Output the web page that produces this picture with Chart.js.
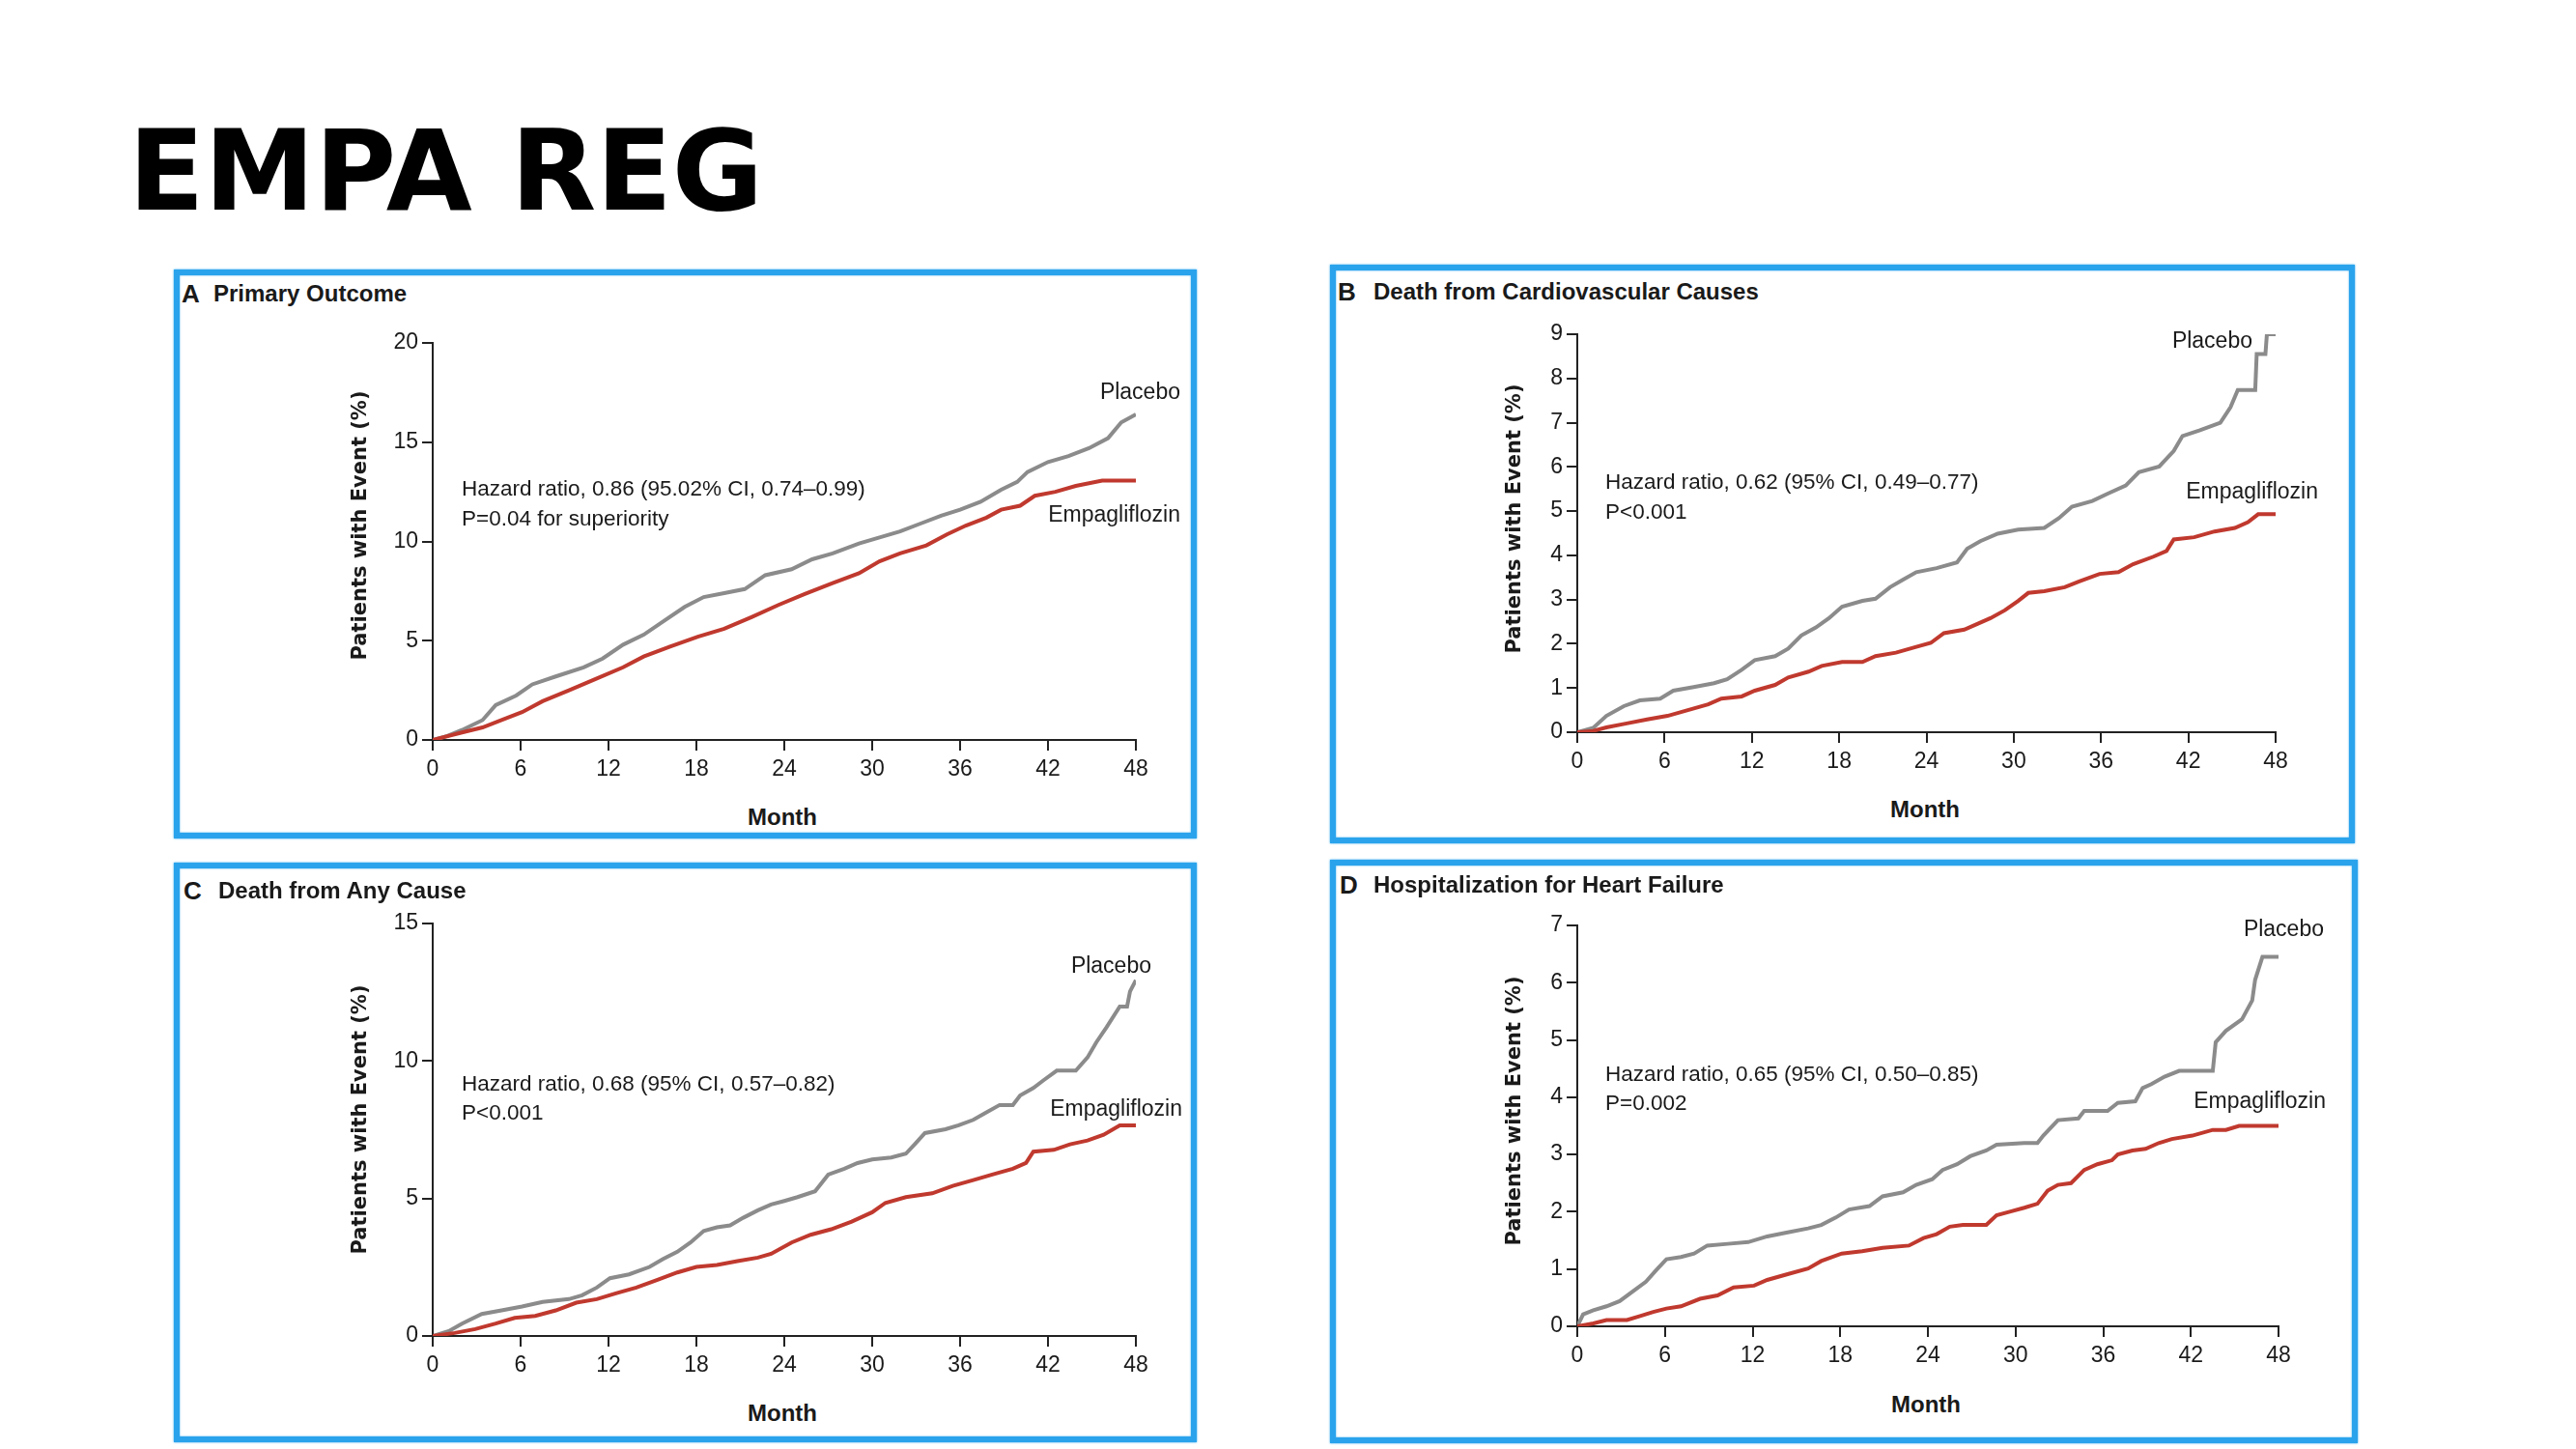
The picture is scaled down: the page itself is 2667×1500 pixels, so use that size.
<!DOCTYPE html>
<html>
<head>
<meta charset="utf-8">
<title>EMPA REG</title>
<script src="https://cdn.jsdelivr.net/npm/chart.js@4.4.1/dist/chart.umd.min.js"></script>
<style>
  html, body { margin: 0; padding: 0; background: #fff; }
  body { width: 2667px; height: 1500px; position: relative; overflow: hidden; }
  #title { position: absolute; left: 133px; top: 120px; font: bold 115px/1 "DejaVu Sans", sans-serif; color: #000; white-space: nowrap; }
  .frame { position: absolute; box-sizing: border-box; border: 6px solid #2aa3ec; box-shadow: 0 0 2px #2aa3ec, inset 0 0 2px #2aa3ec; }
  .plot { position: absolute; }
  .t { position: absolute; line-height: 1; white-space: nowrap; font-family: "Liberation Sans", Arial, sans-serif; color: #1a1a1a; }
  .l { transform: translate(0, -50%); }
  .r { transform: translate(-100%, -50%); }
  .c { transform: translate(-50%, -50%); }
  .head { font-weight: bold; font-size: 24px; }
  .letter { font-weight: bold; font-size: 26px; }
  .note { font-size: 22.5px; }
  .lab { font-size: 23px; }
  .month { font-weight: bold; font-size: 24px; }
  .ylab { font-family: "DejaVu Sans", sans-serif; font-weight: bold; font-size: 21px; transform: translate(-50%, -50%) rotate(-90deg); }
</style>
</head>
<body>
<div id="title">EMPA REG</div>

<div class="frame" style="left:180px;top:279px;width:1059px;height:589px"></div>
<div class="frame" style="left:1377px;top:274px;width:1061px;height:599px"></div>
<div class="frame" style="left:180px;top:893px;width:1059px;height:600px"></div>
<div class="frame" style="left:1377px;top:890px;width:1064px;height:604px"></div>

<div class="plot" id="boxA"><canvas id="chartA"></canvas></div>
<div class="plot" id="boxB"><canvas id="chartB"></canvas></div>
<div class="plot" id="boxC"><canvas id="chartC"></canvas></div>
<div class="plot" id="boxD"><canvas id="chartD"></canvas></div>

<!-- Panel A -->
<div class="t l letter" style="left:188px;top:304px">A</div>
<div class="t l head" style="left:221px;top:304px">Primary Outcome</div>
<div class="t l note" style="left:478px;top:506px">Hazard ratio, 0.86 (95.02% CI, 0.74–0.99)</div>
<div class="t l note" style="left:478px;top:537px">P=0.04 for superiority</div>
<div class="t r lab" style="left:1222px;top:405px">Placebo</div>
<div class="t r lab" style="left:1222px;top:532px">Empagliflozin</div>
<div class="t c month" style="left:810px;top:846px">Month</div>
<div class="t ylab" style="left:372px;top:544px">Patients with Event (%)</div>

<!-- Panel B -->
<div class="t l letter" style="left:1385px;top:302px">B</div>
<div class="t l head" style="left:1422px;top:302px">Death from Cardiovascular Causes</div>
<div class="t l note" style="left:1662px;top:499px">Hazard ratio, 0.62 (95% CI, 0.49–0.77)</div>
<div class="t l note" style="left:1662px;top:530px">P&lt;0.001</div>
<div class="t r lab" style="left:2332px;top:352px">Placebo</div>
<div class="t r lab" style="left:2400px;top:508px">Empagliflozin</div>
<div class="t c month" style="left:1993px;top:838px">Month</div>
<div class="t ylab" style="left:1567px;top:537px">Patients with Event (%)</div>

<!-- Panel C -->
<div class="t l letter" style="left:190px;top:922px">C</div>
<div class="t l head" style="left:226px;top:922px">Death from Any Cause</div>
<div class="t l note" style="left:478px;top:1122px">Hazard ratio, 0.68 (95% CI, 0.57–0.82)</div>
<div class="t l note" style="left:478px;top:1152px">P&lt;0.001</div>
<div class="t r lab" style="left:1192px;top:999px">Placebo</div>
<div class="t r lab" style="left:1224px;top:1147px">Empagliflozin</div>
<div class="t c month" style="left:810px;top:1463px">Month</div>
<div class="t ylab" style="left:372px;top:1159px">Patients with Event (%)</div>

<!-- Panel D -->
<div class="t l letter" style="left:1387px;top:916px">D</div>
<div class="t l head" style="left:1422px;top:916px">Hospitalization for Heart Failure</div>
<div class="t l note" style="left:1662px;top:1112px">Hazard ratio, 0.65 (95% CI, 0.50–0.85)</div>
<div class="t l note" style="left:1662px;top:1142px">P=0.002</div>
<div class="t r lab" style="left:2406px;top:961px">Placebo</div>
<div class="t r lab" style="left:2408px;top:1139px">Empagliflozin</div>
<div class="t c month" style="left:1994px;top:1454px">Month</div>
<div class="t ylab" style="left:1567px;top:1150px">Patients with Event (%)</div>

<script>
// x ticks shared by all four panels
const monthTicks = [0, 6, 12, 18, 24, 30, 36, 42, 48];

// y ticks per panel
const yTicksA = [0, 5, 10, 15, 20];
const yTicksB = [0, 1, 2, 3, 4, 5, 6, 7, 8, 9];
const yTicksC = [0, 5, 10, 15];
const yTicksD = [0, 1, 2, 3, 4, 5, 6, 7];

// A - Primary Outcome
const aPlaceboMonths = [0, 1, 2, 3.4, 4.3, 5.7, 6.8, 8.4, 10.3, 11.6, 13, 14.4, 15.8, 17.2, 18.5, 19.9, 21.3, 22.7, 24.5, 25.9, 27.3, 29.1, 30.5, 31.9, 33.3, 34.7, 36, 37.4, 38.8, 39.9, 40.6, 42, 43.4, 44.8, 46.1, 47, 48];
const aPlaceboPct = [0, 0.2, 0.5, 1.0, 1.76, 2.24, 2.8, 3.2, 3.66, 4.1, 4.8, 5.3, 6.0, 6.7, 7.2, 7.4, 7.6, 8.3, 8.6, 9.1, 9.4, 9.9, 10.2, 10.5, 10.9, 11.3, 11.6, 12.0, 12.6, 13.0, 13.5, 14.0, 14.3, 14.7, 15.2, 16.0, 16.4];
const aEmpaMonths = [0, 2, 3.4, 4.7, 6.1, 7.5, 9.3, 11.2, 13, 14.4, 16.2, 18.1, 19.9, 21.8, 23.6, 25.4, 27.3, 29.1, 30.5, 31.9, 33.7, 35.1, 36.4, 37.8, 38.8, 40.1, 41.1, 42.5, 43.9, 45.7, 48];
const aEmpaPct = [0, 0.38, 0.63, 1.0, 1.4, 1.95, 2.5, 3.1, 3.66, 4.2, 4.7, 5.2, 5.6, 6.2, 6.8, 7.35, 7.9, 8.4, 9.0, 9.4, 9.8, 10.35, 10.8, 11.2, 11.6, 11.8, 12.3, 12.5, 12.8, 13.06, 13.06];

// B - Death from Cardiovascular Causes
const bPlaceboMonths = [0, 1.1, 2, 3.2, 4.3, 5.7, 6.6, 8, 9.4, 10.3, 11.3, 12.2, 13.6, 14.5, 15.4, 16.4, 17.3, 18.2, 19.6, 20.5, 21.5, 22.4, 23.3, 24.7, 26.1, 26.8, 27.7, 28.9, 30.3, 32.1, 33.1, 34, 35.4, 36.5, 37.7, 38.6, 40, 41, 41.6, 42.8, 44.2, 44.9, 45.4, 46.6, 46.7, 47.3, 47.4, 48];
const bPlaceboPct = [0, 0.1, 0.37, 0.59, 0.72, 0.76, 0.94, 1.02, 1.11, 1.2, 1.41, 1.63, 1.72, 1.89, 2.19, 2.37, 2.58, 2.84, 2.97, 3.02, 3.28, 3.45, 3.62, 3.71, 3.84, 4.15, 4.32, 4.49, 4.58, 4.62, 4.84, 5.1, 5.23, 5.4, 5.58, 5.88, 6.01, 6.36, 6.7, 6.83, 7.0, 7.35, 7.74, 7.74, 8.55, 8.55, 9.0, 9.0];
const bEmpaMonths = [0, 1.1, 2, 3.4, 4.8, 6.2, 7.6, 9, 9.9, 11.3, 12.2, 13.6, 14.5, 15.9, 16.8, 18.2, 19.6, 20.5, 21.9, 23.3, 24.3, 25.2, 26.6, 27.5, 28.4, 29.4, 30.3, 31, 32.1, 33.5, 34.5, 35.9, 37.2, 38.2, 39.6, 40.5, 41, 42.4, 43.8, 45.2, 46.1, 46.8, 48];
const bEmpaPct = [0, 0.03, 0.11, 0.2, 0.29, 0.37, 0.5, 0.63, 0.76, 0.81, 0.94, 1.07, 1.24, 1.37, 1.5, 1.59, 1.59, 1.72, 1.8, 1.93, 2.02, 2.24, 2.32, 2.45, 2.58, 2.76, 2.97, 3.15, 3.19, 3.28, 3.41, 3.58, 3.62, 3.8, 3.97, 4.1, 4.36, 4.41, 4.54, 4.62, 4.75, 4.93, 4.93];

// C - Death from Any Cause
const cPlaceboMonths = [0, 1.1, 2, 3.35, 4.7, 6.1, 7.5, 9.3, 10.2, 11.2, 12.1, 13.4, 14.8, 15.7, 16.7, 17.6, 18.5, 19.4, 20.3, 21.2, 22.2, 23.1, 24, 24.9, 26.1, 27, 28.1, 29, 30, 31.3, 32.3, 32.9, 33.6, 35, 35.9, 36.9, 37.8, 38.7, 39.6, 40.1, 41, 41.7, 42.6, 43.9, 44.7, 45.3, 46, 46.9, 47.4, 47.6, 48];
const cPlaceboPct = [0, 0.18, 0.45, 0.8, 0.93, 1.07, 1.24, 1.34, 1.48, 1.76, 2.1, 2.24, 2.51, 2.79, 3.06, 3.4, 3.82, 3.95, 4.02, 4.3, 4.57, 4.78, 4.91, 5.05, 5.26, 5.87, 6.08, 6.29, 6.42, 6.49, 6.63, 6.97, 7.38, 7.52, 7.66, 7.86, 8.13, 8.4, 8.4, 8.75, 9.02, 9.3, 9.65, 9.65, 10.13, 10.68, 11.23, 11.98, 11.98, 12.53, 12.94];
const cEmpaMonths = [0, 1.5, 2.9, 4.3, 5.6, 7, 8.4, 9.8, 11.2, 12.5, 13.9, 15.3, 16.7, 18, 19.4, 20.8, 22.2, 23.1, 24.5, 25.8, 27.2, 28.6, 30, 30.9, 32.3, 34.1, 35.5, 36.9, 38.2, 39.6, 40.5, 41, 42.4, 43.5, 44.7, 45.8, 46.9, 48];
const cEmpaPct = [0, 0.11, 0.25, 0.45, 0.66, 0.73, 0.93, 1.21, 1.34, 1.55, 1.76, 2.03, 2.31, 2.51, 2.58, 2.72, 2.85, 2.99, 3.4, 3.68, 3.88, 4.16, 4.5, 4.84, 5.05, 5.19, 5.46, 5.67, 5.87, 6.08, 6.29, 6.7, 6.77, 6.97, 7.11, 7.32, 7.66, 7.66];

// D - Hospitalization for Heart Failure
const dPlaceboMonths = [0, 0.4, 1.1, 2, 2.9, 3.8, 4.7, 5.4, 6.1, 7.1, 8, 8.9, 10.3, 11.7, 13, 14.4, 15.8, 16.7, 17.7, 18.6, 20, 20.9, 22.3, 23.2, 24.3, 25, 26, 26.9, 28, 28.7, 30.6, 31.5, 31.9, 32.9, 34.3, 34.7, 36.3, 37, 38.2, 38.7, 39.3, 40.2, 41.2, 43.5, 43.7, 44.4, 45.5, 46.2, 46.4, 46.9, 48];
const dPlaceboPct = [0, 0.21, 0.28, 0.35, 0.44, 0.61, 0.78, 0.98, 1.17, 1.21, 1.27, 1.41, 1.44, 1.47, 1.57, 1.64, 1.71, 1.77, 1.9, 2.04, 2.1, 2.27, 2.34, 2.47, 2.57, 2.73, 2.83, 2.97, 3.07, 3.17, 3.2, 3.2, 3.33, 3.6, 3.63, 3.76, 3.76, 3.9, 3.93, 4.16, 4.23, 4.36, 4.46, 4.46, 4.96, 5.16, 5.36, 5.69, 6.05, 6.45, 6.45];
const dEmpaMonths = [0, 1.1, 2, 3.4, 4.3, 5.2, 6.1, 7.1, 8.4, 9.6, 10.7, 12.1, 13, 14.4, 15.8, 16.7, 18.1, 19.5, 20.9, 22.7, 23.7, 24.6, 25.5, 26.4, 28, 28.7, 29.6, 30.6, 31.5, 32.2, 32.9, 33.8, 34.7, 35.6, 36.6, 37, 38, 38.9, 39.8, 40.7, 42.1, 43.5, 44.4, 45.3, 48];
const dEmpaPct = [0, 0.05, 0.11, 0.11, 0.18, 0.25, 0.31, 0.35, 0.48, 0.54, 0.68, 0.71, 0.81, 0.91, 1.01, 1.14, 1.27, 1.31, 1.37, 1.41, 1.54, 1.61, 1.74, 1.77, 1.77, 1.94, 2.0, 2.07, 2.14, 2.37, 2.47, 2.5, 2.73, 2.83, 2.9, 3.0, 3.07, 3.1, 3.2, 3.27, 3.33, 3.43, 3.43, 3.5, 3.5];

const PLACEBO_COLOR = "#8b8b8b";
const EMPA_COLOR = "#c0392e";
const AXIS_COLOR = "#222";
const TICK_FONT = { family: "'Liberation Sans', Arial, sans-serif", size: 23 };

// room around the plot area inside each canvas
const PAD_LEFT = 120, PAD_TOP = 30, PAD_RIGHT = 40, PAD_BOTTOM = 60;

function toPoints(xs, ys) {
  return xs.map((x, i) => ({ x: x, y: ys[i] }));
}

function makeChart(id, area, yTicks, placebo, empa) {
  // area = plot rectangle on the page: left, top, right, bottom
  const box = document.getElementById("box" + id);
  box.style.left = (area[0] - PAD_LEFT) + "px";
  box.style.top = (area[1] - PAD_TOP) + "px";
  box.style.width = (area[2] - area[0] + PAD_LEFT + PAD_RIGHT) + "px";
  box.style.height = (area[3] - area[1] + PAD_TOP + PAD_BOTTOM) + "px";

  const axisGrid = {
    display: true,
    drawOnChartArea: false,
    drawTicks: true,
    tickLength: 11,
    color: AXIS_COLOR,
    lineWidth: 2,
  };

  new Chart(document.getElementById("chart" + id), {
    type: "line",
    data: {
      datasets: [
        {
          label: "Empagliflozin",
          data: toPoints(empa[0], empa[1]),
          borderColor: EMPA_COLOR,
          borderWidth: 4,
          pointRadius: 0,
          tension: 0,
        },
        {
          label: "Placebo",
          data: toPoints(placebo[0], placebo[1]),
          borderColor: PLACEBO_COLOR,
          borderWidth: 4,
          pointRadius: 0,
          tension: 0,
        },
      ],
    },
    options: {
      responsive: true,
      maintainAspectRatio: false,
      animation: false,
      layout: { padding: { left: 0, top: PAD_TOP, right: PAD_RIGHT, bottom: 0 } },
      plugins: { legend: { display: false }, tooltip: { enabled: false } },
      scales: {
        x: {
          type: "linear",
          min: 0,
          max: 48,
          afterBuildTicks: (s) => { s.ticks = monthTicks.map((v) => ({ value: v })); },
          afterFit: (s) => { s.height = PAD_BOTTOM; },
          grid: axisGrid,
          border: { display: true, color: AXIS_COLOR, width: 2 },
          ticks: { font: TICK_FONT, color: "#1a1a1a", padding: 6, maxRotation: 0, autoSkip: false },
        },
        y: {
          type: "linear",
          min: 0,
          max: yTicks[yTicks.length - 1],
          afterBuildTicks: (s) => { s.ticks = yTicks.map((v) => ({ value: v })); },
          afterFit: (s) => { s.width = PAD_LEFT; },
          grid: axisGrid,
          border: { display: true, color: AXIS_COLOR, width: 2 },
          ticks: { font: TICK_FONT, color: "#1a1a1a", padding: 4, autoSkip: false },
        },
      },
    },
  });
}

makeChart("A", [448, 355, 1176, 766], yTicksA, [aPlaceboMonths, aPlaceboPct], [aEmpaMonths, aEmpaPct]);
makeChart("B", [1633, 346, 2356, 758], yTicksB, [bPlaceboMonths, bPlaceboPct], [bEmpaMonths, bEmpaPct]);
makeChart("C", [448, 956, 1176, 1383], yTicksC, [cPlaceboMonths, cPlaceboPct], [cEmpaMonths, cEmpaPct]);
makeChart("D", [1633, 958, 2359, 1373], yTicksD, [dPlaceboMonths, dPlaceboPct], [dEmpaMonths, dEmpaPct]);
</script>
</body>
</html>
